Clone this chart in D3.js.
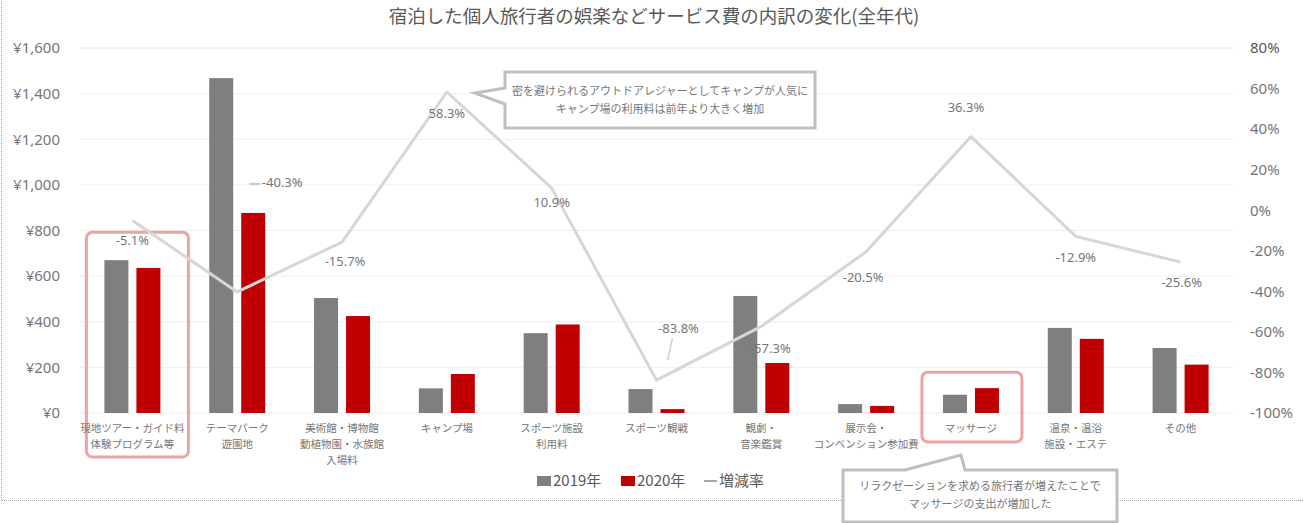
<!DOCTYPE html>
<html>
<head>
<meta charset="utf-8">
<script src="https://cdn.jsdelivr.net/npm/d3@7"></script>
<style>
  body { margin: 0; background: #fff; }
  svg { display: block; font-family: "Noto Sans CJK JP", "Noto Sans", sans-serif; }
</style>
</head>
<body>
<div id="container"></div>
<script>
// data
let categories = [
  "現地ツアー・ガイド料\n体験プログラム等",
  "テーマパーク\n遊園地",
  "美術館・博物館\n動植物園・水族館\n入場料",
  "キャンプ場",
  "スポーツ施設\n利用料",
  "スポーツ観戦",
  "観劇・\n音楽鑑賞",
  "展示会・\nコンベンション参加費",
  "マッサージ",
  "温泉・温浴\n施設・エステ",
  "その他"
];
let spend2019 = [670, 1468, 504, 108, 350, 105, 513, 39, 80, 373, 285];
let spend2020 = [636, 877, 425, 171, 388, 17, 219, 31, 109, 325, 212];
let changeRate = [-0.051, -0.403, -0.157, 0.583, 0.109, -0.838, -0.573, -0.205, 0.363, -0.129, -0.256];
let years = ["2019年", "2020年"];
let yenTicks = [0, 200, 400, 600, 800, 1000, 1200, 1400, 1600];
let rateTicks = [0.8, 0.6, 0.4, 0.2, 0, -0.2, -0.4, -0.6, -0.8, -1];
let titleText = "宿泊した個人旅行者の娯楽などサービス費の内訳の変化(全年代)";
let note1 = ["密を避けられるアウトドアレジャーとしてキャンプが人気に", "キャンプ場の利用料は前年より大きく増加"];
let note2 = ["リラクゼーションを求める旅行者が増えたことで", "マッサージの支出が増加した"];

// where each rate label sits relative to its point (layout only)
let labelShift = [[0,20],[45,-109],[3,19],[0,21],[0,14],[22,-52],[9,22],[-3,26],[-5,-29],[0,21],[1,20]];

let w = 1303;
let h = 523;
let textGray = "#595959";
let softGray = "#767676";

// excel style minus sign
let pct0 = d => d3.format(".0%")(d).replace("−", "-");
let pct1 = d => d3.format(".1%")(d).replace("−", "-");

let viz = d3.select("#container")
  .append("svg")
    .attr("width", w)
    .attr("height", h)
;

// dotted chart frame
viz.append("rect")
  .attr("x", 1.5).attr("y", -5)
  .attr("width", w + 10).attr("height", 505.5)
  .attr("fill", "none")
  .attr("stroke", "#a6a6a6")
  .attr("stroke-dasharray", "1,1")
;

let x = d3.scaleBand().domain(categories).range([80, 1233]);
let yLeft = d3.scaleLinear().domain([0, 1600]).range([413, 48]);
let yRight = d3.scaleLinear().domain([-1, 0.8]).range([413, 48]);
let bw = x.bandwidth();
let xSub = d3.scaleBand().domain(years).range([bw/2 - 28, bw/2 + 28]).paddingInner(0.25);
let color = d3.scaleOrdinal().domain(years).range(["#7f7f7f", "#c00000"]);

// gridlines
viz.append("g").selectAll("line").data(yenTicks).enter()
  .append("line")
    .attr("x1", 80).attr("x2", 1233)
    .attr("y1", d => yLeft(d)).attr("y2", d => yLeft(d))
    .attr("stroke", (d) => d == 1600 ? "#e0e0e0" : "#efefef")
    .attr("stroke-width", 1)
;

// left axis
let leftAxis = d3.axisLeft(yLeft).tickValues(yenTicks).tickSize(0).tickPadding(0)
  .tickFormat(d => "¥" + d3.format(",")(d));
viz.append("g").attr("transform", "translate(60,0)").call(leftAxis)
  .call(g => g.select(".domain").remove())
  .selectAll("text")
    .attr("fill", softGray)
    .style("font-size", "15px")
    .style("font-family", "'Noto Sans', sans-serif")
;

// right axis
let rightAxis = d3.axisRight(yRight).tickValues(rateTicks).tickSize(0).tickPadding(0)
  .tickFormat(pct0);
viz.append("g").attr("transform", "translate(1250,0)").call(rightAxis)
  .call(g => g.select(".domain").remove())
  .selectAll("text")
    .attr("fill", (d) => d == 0.8 ? textGray : softGray)
    .style("font-size", "15px")
    .style("font-family", "'Noto Sans', sans-serif")
;

// highlight boxes
let hl = [
  {cat: 0, top: yLeft(spend2019[0]) - 28, bottom: 457, half: 51, shift: 5},
  {cat: 8, top: yLeft(spend2020[8]) - 16, bottom: 442, half: 50, shift: 1}
];
viz.append("g").selectAll("rect").data(hl).enter()
  .append("rect")
    .attr("x", d => x(categories[d.cat]) + bw/2 + d.shift - d.half)
    .attr("y", d => d.top)
    .attr("width", d => d.half * 2)
    .attr("height", d => d.bottom - d.top)
    .attr("rx", 6)
    .attr("fill", "none")
    .attr("stroke", "#eea3a3")
    .attr("stroke-width", 3)
;

// bars
let rows = categories.map((c, i) => ({cat: c, values: [spend2019[i], spend2020[i]]}));
let groups = viz.selectAll(".datagroup").data(rows).enter()
  .append("g")
    .attr("class", "datagroup")
    .attr("transform", d => "translate(" + x(d.cat) + ",0)")
;
groups.selectAll("rect").data(d => d.values.map((v, j) => ({year: years[j], value: v}))).enter()
  .append("rect")
    .attr("x", d => xSub(d.year))
    .attr("y", d => yLeft(d.value))
    .attr("width", xSub.bandwidth())
    .attr("height", d => yLeft(0) - yLeft(d.value))
    .attr("fill", d => color(d.year))
;

// category labels
groups.append("text")
  .attr("text-anchor", "middle")
  .attr("fill", softGray)
  .style("font-size", "10.5px")
  .selectAll("tspan").data(d => d.cat.split("\n")).enter()
  .append("tspan")
    .attr("x", bw/2)
    .attr("y", (d, i) => 432 + i * 16)
    .text(d => d)
;

// rate line
let pts = categories.map((c, i) => [x(c) + bw/2, yRight(changeRate[i])]);
viz.append("path")
  .attr("d", d3.line()(pts))
  .attr("fill", "none")
  .attr("stroke", "#d6d6d6")
  .attr("stroke-width", 3)
  .attr("stroke-linejoin", "round")
;

// rate labels
let lab = pts.map((p, i) => ({x: p[0] + labelShift[i][0], y: p[1] + labelShift[i][1], r: changeRate[i], i: i}));
viz.append("g").selectAll("text").data(lab).enter()
  .append("text")
    .attr("x", d => d.x)
    .attr("y", d => d.y)
    .attr("dy", "0.35em")
    .attr("text-anchor", "middle")
    .attr("fill", softGray)
    .style("font-size", "13px")
    .style("font-family", "'Noto Sans', sans-serif")
    .text(d => pct1(d.r))
;
// little leader lines
viz.append("line")
  .attr("x1", lab[1].x - 33).attr("x2", lab[1].x - 22)
  .attr("y1", lab[1].y + 1).attr("y2", lab[1].y + 1)
  .attr("stroke", "#bdbdbd").attr("stroke-width", 1.5);
viz.append("line")
  .attr("x1", lab[5].x - 6).attr("x2", lab[5].x - 11)
  .attr("y1", lab[5].y + 10).attr("y2", lab[5].y + 32)
  .attr("stroke", "#cfcfcf").attr("stroke-width", 1.5);

// callout near the peak
let tip1 = [pts[3][0] + 28, pts[3][1] + 1];
viz.append("path")
  .attr("d", "M505,72 L815,72 L815,128 L505,128 L505,104 L" + tip1[0] + "," + tip1[1] + " L505,88 Z")
  .attr("fill", "#fff")
  .attr("stroke", "#bfbfbf")
  .attr("stroke-width", 3)
;
viz.append("text")
  .attr("text-anchor", "middle")
  .attr("fill", softGray)
  .style("font-size", "11px")
  .selectAll("tspan").data(note1).enter()
  .append("tspan")
    .attr("x", 660)
    .attr("y", (d, i) => 95 + i * 18)
    .text(d => d)
;

// callout under the highlighted pair
let tip2 = [pts[8][0] - 10, 455];
viz.append("path")
  .attr("d", "M843,470 L905,470 L" + tip2[0] + "," + tip2[1] + " L965,470 L1117,470 L1117,522 L843,522 Z")
  .attr("fill", "#fff")
  .attr("stroke", "#bfbfbf")
  .attr("stroke-width", 3)
;
viz.append("text")
  .attr("text-anchor", "middle")
  .attr("fill", softGray)
  .style("font-size", "11px")
  .selectAll("tspan").data(note2).enter()
  .append("tspan")
    .attr("x", 980)
    .attr("y", (d, i) => 490 + i * 18)
    .text(d => d)
;

// legend
let legend = viz.append("g").attr("transform", "translate(537,481)");
legend.append("rect").attr("x", 0).attr("y", -5).attr("width", 14).attr("height", 10).attr("fill", color(years[0]));
legend.append("text").attr("x", 16).attr("y", 0).attr("dy", "0.35em").text(years[0]);
legend.append("rect").attr("x", 84).attr("y", -5).attr("width", 14).attr("height", 10).attr("fill", color(years[1]));
legend.append("text").attr("x", 100).attr("y", 0).attr("dy", "0.35em").text(years[1]);
legend.append("line").attr("x1", 167).attr("x2", 180).attr("y1", 0).attr("y2", 0).attr("stroke", "#8c8c8c").attr("stroke-width", 1.5);
legend.append("text").attr("x", 182).attr("y", 0).attr("dy", "0.35em").text("増減率");
legend.selectAll("text").attr("fill", textGray).style("font-size", "15px");

// title
viz.append("text")
  .attr("x", 654)
  .attr("y", 17)
  .attr("dy", "0.35em")
  .attr("text-anchor", "middle")
  .attr("fill", textGray)
  .style("font-size", "18.5px")
  .text(titleText)
;
</script>
</body>
</html>
